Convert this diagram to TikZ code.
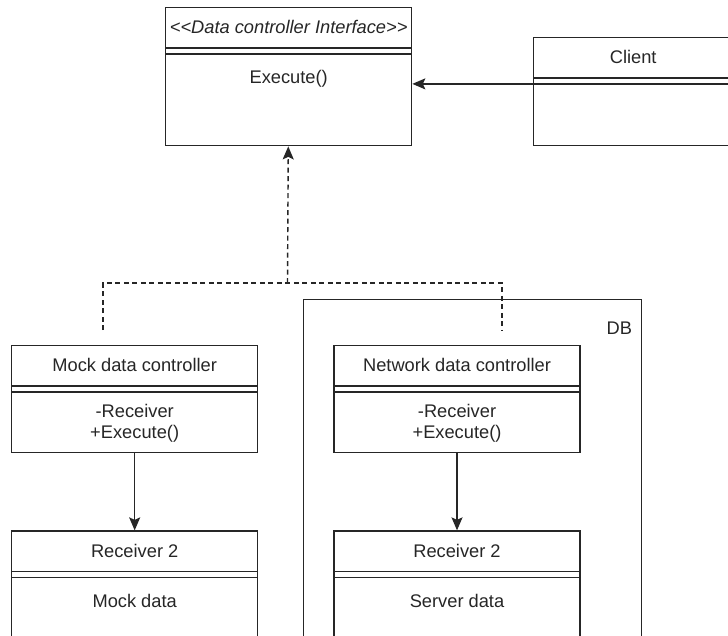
\documentclass[tikz,border=0pt]{standalone}
\usepackage{fontspec}
\setmainfont{Liberation Sans}
\usetikzlibrary{positioning,arrows.meta}
\begin{document}
\begin{tikzpicture}[x=0.02cm, y=-0.02cm,
  font=\fontsize{10.4}{11.5}\selectfont, color=black!85, line width=0.8pt,
  classbox/.style={draw, inner sep=0pt, minimum width=4.92cm},
  classname/.style={inner sep=0pt, minimum width=4.92cm, minimum height=0.79cm},
  classops/.style={inner sep=0pt, align=center},
  assoc/.style={-{Stealth[length=0.26cm, width=0.22cm, inset=0.05cm]}},
  realize/.style={assoc, dash pattern=on 0.1cm off 0.07cm},
  dashline/.style={dash pattern=on 0.1cm off 0.07cm}]
  \useasboundingbox (0,0) rectangle (728,636);
  \clip (0,0) rectangle (728,636);
  \node (db) [draw, minimum width=6.76cm, minimum height=8cm, anchor=north west] at (303,299) {};
  \node (dblabel) at ([xshift=-0.46cm, yshift=-0.59cm]db.north east) {DB};
  \node (iface) [classbox, minimum height=2.76cm, anchor=north west] at (165,7) {};
  \node (ifacename) [classname, below=0pt of iface.north] {\textit{<{}<Data controller Interface>{}>}};
  \node (ifaceops) [classops, below=0.44cm of ifacename] {Execute()};
  \node (client) [classbox, minimum width=3.98cm, minimum height=2.16cm, anchor=north west] at (533,37) {};
  \node (clientname) [classname, minimum width=3.98cm, below=0pt of client.north] {Client};
  \node (mock) [classbox, minimum height=2.14cm, anchor=north west] at (11,345) {};
  \node (mockname) [classname, below=0pt of mock.north] {Mock data controller};
  \node (mockops) [classops, below=0.36cm of mockname] {-Receiver\\+Execute()};
  \node (net) [classbox, minimum height=2.14cm, right=1.5cm of mock] {};
  \node (netname) [classname, below=0pt of net.north] {Network data controller};
  \node (netops) [classops, below=0.36cm of netname] {-Receiver\\+Execute()};
  \node (mockrecv) [classbox, minimum height=2.8cm, below=1.54cm of mock] {};
  \node (mockrecvname) [classname, below=0pt of mockrecv.north] {Receiver 2};
  \node (mockrecvdata) [classops, below=0.44cm of mockrecvname] {Mock data};
  \node (netrecv) [classbox, minimum height=2.8cm, below=1.54cm of net] {};
  \node (netrecvname) [classname, below=0pt of netrecv.north] {Receiver 2};
  \node (netrecvdata) [classops, below=0.44cm of netrecvname] {Server data};
  \foreach \n in {ifacename, clientname, mockname, netname, mockrecvname, netrecvname}
    \draw (\n.south west) -- (\n.south east)
      ([yshift=-0.12cm]\n.south west) -- ([yshift=-0.12cm]\n.south east);
  \coordinate (clientport) at ([yshift=-0.12cm]clientname.south west);
  \coordinate (join) at (287.5,283);
  \coordinate (mockend) at (103,330);
  \coordinate (netend) at (502,330);
  \draw[assoc] (clientport) -- (clientport -| iface.east);
  \draw[realize] (join) -- (iface);
  \draw[dashline] (mockend) -- (mockend |- join) -- (netend |- join) -- (netend);
  \draw[assoc] (mock) -- (mockrecv);
  \draw[assoc] (net) -- (netrecv);
\end{tikzpicture}
\end{document}
